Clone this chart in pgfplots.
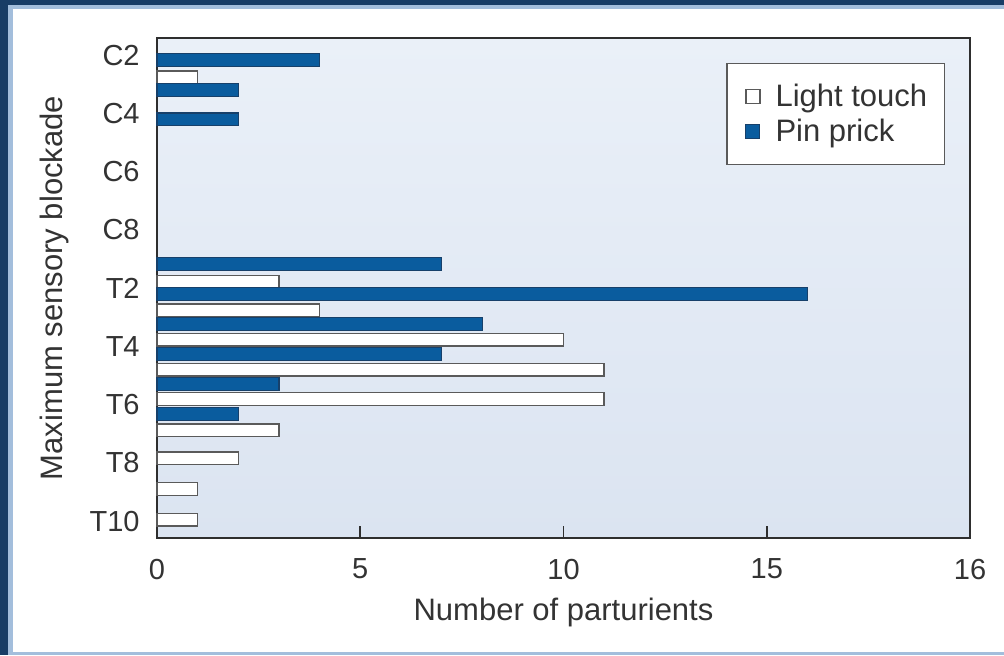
\documentclass[border=0pt]{standalone}
\usepackage{pgfplots}
\pgfplotsset{compat=1.18}
\usepackage{fontspec}
\setmainfont{Liberation Sans}
\definecolor{navy}{HTML}{183D66}
\definecolor{panelline}{HTML}{A3BEDC}
\definecolor{bgtop}{HTML}{EAF0F8}
\definecolor{bgbot}{HTML}{DBE4F1}
\definecolor{pinblue}{HTML}{0A5C9E}
\definecolor{pinedge}{HTML}{17406A}
\definecolor{lightedge}{HTML}{5A5A5A}
\definecolor{framegray}{HTML}{2E2E2E}
\definecolor{txt}{HTML}{333333}
\begin{document}
\begin{tikzpicture}
% outer frame and panel (1px = 0.5pt, y measured downward from top)
\fill[navy] (0pt,0pt) rectangle (502pt,-327.5pt);
\fill[panelline] (4pt,-2.5pt) rectangle (502pt,-327.5pt);
\fill[white] (6.5pt,-4.5pt) rectangle (502pt,-326pt);
\begin{axis}[
  at={(78.5pt,-269pt)}, anchor=south west,
  scale only axis, width=406.5pt, height=250pt,
  xmin=0, xmax=20, ymin=-0.584, ymax=16.584, y dir=reverse,
  xbar, bar width=6.3pt, bar shift=0pt,
  axis background/.style={top color=bgtop, bottom color=bgbot},
  axis line style={line width=1pt, draw=framegray},
  xtick={0,5,10,15,20}, xticklabels={0,5,10,15,16},
  ytick={0,2,4,6,8,10,12,14,16},
  yticklabels={C2,C4,C6,C8,T2,T4,T6,T8,T10},
  xtick pos=left, tick align=inside, major tick length=6pt,
  xtick style={line width=0.8pt, draw=framegray},
  ytick style={draw=none},
  /pgf/number format/assume math mode=true,
  tick label style={font=\fontsize{14.5}{17}\selectfont, text=txt, inner sep=0pt},
  xticklabel style={anchor=center, yshift=-15.5pt},
  yticklabel style={anchor=east, xshift=-8.5pt},
  xlabel={Number of parturients},
  ylabel={Maximum sensory blockade},
  label style={font=\fontsize{15.5}{18}\selectfont, text=txt},
  x label style={at={(axis description cs:0.5,-0.148)}, anchor=center},
  y label style={at={(axis description cs:-0.1255,0.5)}, anchor=center},
  legend image code/.code={\path (0pt,-3.5pt) (15pt,3.5pt); \draw[#1] (1.5pt,-3.5pt) rectangle (8.5pt,3.5pt);},
  legend style={at={(rel axis cs:0.969,0.95)}, anchor=north east,
    draw=lightedge, fill=white, line width=0.6pt,
    font=\fontsize{15.5}{18}\selectfont, text=txt,
    inner xsep=7.5pt, inner ysep=9pt, row sep=3pt,
    nodes={inner sep=1pt}},
  legend cell align=left,
  clip=false,
]
\addplot[fill=white, draw=lightedge, line width=0.75pt] coordinates {
  (1,0.76) (3,7.78) (4,8.76) (10,9.77) (11,10.80) (11,11.81) (3,12.88) (2,13.85) (1,14.90) (1,15.95)};
\addlegendentry{Light touch}
\addplot[fill=pinblue, draw=pinedge, line width=0.6pt] coordinates {
  (4,0.17) (2,1.20) (2,2.21) (7,7.18) (16,8.21) (8,9.24) (7,10.27) (3,11.30) (2,12.33)};
\addlegendentry{Pin prick}
\end{axis}
\end{tikzpicture}
\end{document}
